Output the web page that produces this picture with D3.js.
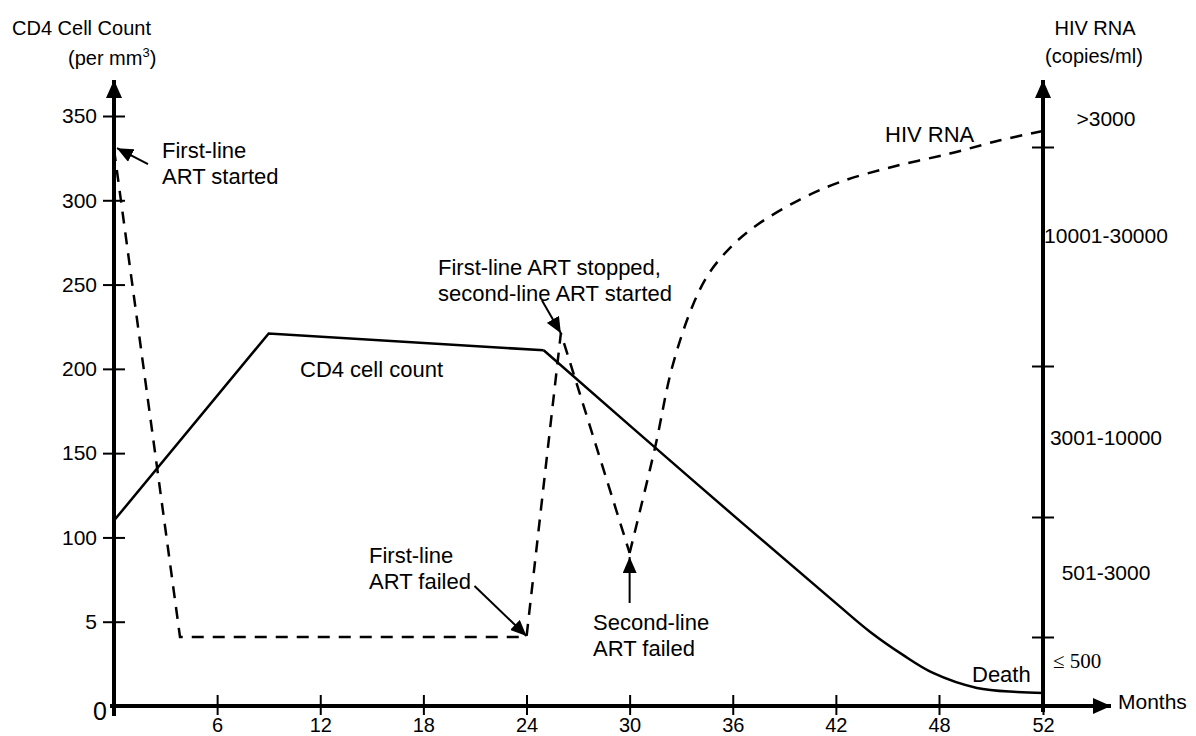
<!DOCTYPE html>
<html><head><meta charset="utf-8">
<script src="https://cdn.jsdelivr.net/npm/d3@7"></script>
<style>
body{margin:0;background:#fff}
svg text{font-family:"Liberation Sans",Arial,Helvetica,sans-serif;fill:#000}
</style>
</head><body>
<svg id="c" width="1196" height="736"></svg>
<script>
// ---------- data ----------
const xTickMonths = [6, 12, 18, 24, 30, 36, 42, 48, 52];
const xTickLabels = ["6", "12", "18", "24", "30", "36", "42", "48", "52"];
const cd4TickValues = [50, 100, 150, 200, 250, 300, 350];
const cd4TickLabels = ["5", "100", "150", "200", "250", "300", "350"];
const rnaLevelLabels = ["\u2264 500", "501-3000", "3001-10000", "10001-30000", ">3000"];
const rnaBoundaries = [1, 2, 3, 4];

// CD4 cell count (per mm3) by month
const cd4Months = [0, 9, 25, 34, 42, 44, 45.9, 47.65, 49.46, 51, 52];
const cd4Values = [110, 221, 211, 131, 61, 43.9, 30.3, 19.6, 10.7, 8.3, 7.7];

// HIV RNA, expressed as position on the right-hand category axis (0 = bottom, 1 = 500, 2 = 3000, 3 = 10000, 4 = 30000)
const hivMonths = [0, 3.84, 24, 26, 30, 31.48, 32.47, 33.69, 34.68, 36.01, 37.41, 39.91, 42.24, 45.32, 48.42, 50.35, 52];
const hivLevels = [3.99, 1.0, 1.0, 3.15, 1.70, 2.46, 2.99, 3.28, 3.43, 3.553, 3.644, 3.76, 3.84, 3.91, 3.97, 4.10, 4.24];

// ---------- drawing ----------
const svg = d3.select("#c");
const x = d3.scaleLinear().domain([0, 48, 52]).range([114, 939, 1043]);
const y = d3.scaleLinear().domain([0, 350]).range([706, 116]);
const yR = d3.scaleLinear().domain([0, 1, 2, 3, 4, 5]).range([706, 637, 517, 366, 147, 80]);

const defs = svg.append("defs");
defs.append("marker").attr("id", "ah").attr("markerUnits", "userSpaceOnUse")
  .attr("markerWidth", 17).attr("markerHeight", 14).attr("refX", 16).attr("refY", 7)
  .attr("orient", "auto")
  .append("path").attr("d", "M0,0 L16,7 L0,14 Z").attr("fill", "#000");
defs.append("marker").attr("id", "axh").attr("markerUnits", "userSpaceOnUse")
  .attr("markerWidth", 19).attr("markerHeight", 17).attr("refX", 18).attr("refY", 8)
  .attr("orient", "auto")
  .append("path").attr("d", "M0,0 L18,8 L0,16 Z").attr("fill", "#000");

// axis spines
svg.append("line").attr("x1", x(0)).attr("x2", x(0)).attr("y1", 716).attr("y2", 80)
  .attr("stroke", "#000").attr("stroke-width", 4).attr("marker-end", "url(#axh)");
svg.append("line").attr("x1", 110).attr("x2", 1111).attr("y1", y(0)).attr("y2", y(0))
  .attr("stroke", "#000").attr("stroke-width", 4).attr("marker-end", "url(#axh)");
svg.append("line").attr("x1", x(52)).attr("x2", x(52)).attr("y1", 712).attr("y2", 80)
  .attr("stroke", "#000").attr("stroke-width", 4).attr("marker-end", "url(#axh)");

// left axis
const gL = svg.append("g").attr("transform", `translate(${x(0)},0)`)
  .call(d3.axisLeft(y).tickValues(cd4TickValues).tickFormat((d, i) => cd4TickLabels[i]).tickSize(10));
gL.select(".domain").remove();
gL.attr("font-family", null).attr("font-size", null);
gL.selectAll(".tick line").attr("x1", -11).attr("x2", 11).attr("stroke-width", 2);
gL.selectAll(".tick text").attr("x", -17).style("font-size", "21px");
svg.append("text").attr("x", 107).attr("y", y(0) + 14).attr("text-anchor", "end")
  .style("font-size", "25px").text("0");

// bottom axis
const gB = svg.append("g").attr("transform", `translate(0,${y(0)})`)
  .call(d3.axisBottom(x).tickValues(xTickMonths).tickFormat((d, i) => xTickLabels[i]).tickSize(10));
gB.select(".domain").remove();
gB.attr("font-family", null).attr("font-size", null);
gB.selectAll(".tick line").attr("y1", -11).attr("y2", 9).attr("stroke-width", 2);
gB.selectAll(".tick text").attr("y", 12).style("font-size", "20px");

// right axis
const gR = svg.append("g").attr("transform", `translate(${x(52)},0)`)
  .call(d3.axisRight(yR).tickValues(rnaBoundaries).tickFormat("").tickSize(10));
gR.select(".domain").remove();
gR.selectAll(".tick line").attr("x1", -11).attr("x2", 11).attr("stroke-width", 2);
const labelNudge = [-11, -4, -4, -21, 5];
rnaLevelLabels.forEach((t, i) => {
  const tx = svg.append("text").attr("y", yR(i + 0.5) + labelNudge[i]).attr("dy", "0.35em").text(t);
  if (i === 0) {
    tx.attr("x", x(52) + 10).style("font-family", "'Liberation Serif','Times New Roman',serif").style("font-size", "21px");
  } else {
    tx.attr("x", x(52) + 63).attr("text-anchor", "middle").style("font-size", "21px");
  }
});

// axis titles
svg.append("text").attr("x", 12).attr("y", 35).style("font-size", "20px").text("CD4 Cell Count");
const pt = svg.append("text").attr("x", 68).attr("y", 65).style("font-size", "20px");
pt.append("tspan").text("(per mm");
pt.append("tspan").attr("dy", -8).style("font-size", "13px").text("3");
pt.append("tspan").attr("dy", 8).text(")");
svg.append("text").attr("x", 1095).attr("y", 35).attr("text-anchor", "middle").style("font-size", "20px").text("HIV RNA");
svg.append("text").attr("x", 1094).attr("y", 63).attr("text-anchor", "middle").style("font-size", "20px").text("(copies/ml)");
svg.append("text").attr("x", 1118).attr("y", 709).style("font-size", "21px").text("Months");

// CD4 line
const cd4 = cd4Months.map((m, i) => [m, cd4Values[i]]);
const lineL = d3.line().x(d => x(d[0])).y(d => y(d[1]));
const lineLs = d3.line().x(d => x(d[0])).y(d => y(d[1])).curve(d3.curveCatmullRom.alpha(0.5));
svg.append("path").attr("d", lineL(cd4.slice(0, 3))).attr("fill", "none").attr("stroke", "#000")
  .attr("stroke-width", 2.5).attr("stroke-linejoin", "miter");
svg.append("path").attr("d", lineLs(cd4.slice(2))).attr("fill", "none").attr("stroke", "#000")
  .attr("stroke-width", 2.5);

// HIV RNA line
const hiv = hivMonths.map((m, i) => [m, hivLevels[i]]);
const lineR = d3.line().x(d => x(d[0])).y(d => yR(d[1]));
const lineRs = d3.line().x(d => x(d[0])).y(d => yR(d[1])).curve(d3.curveCatmullRom.alpha(0.5));
svg.append("path").attr("d", lineR(hiv.slice(0, 5))).attr("fill", "none").attr("stroke", "#000")
  .attr("stroke-width", 2.5).attr("stroke-dasharray", "12,9");
svg.append("path").attr("d", lineRs(hiv.slice(4))).attr("fill", "none").attr("stroke", "#000")
  .attr("stroke-width", 2.5).attr("stroke-dasharray", "12,9");

// annotations
function arrow(tipX, tipY, dx, dy) {
  svg.append("line").attr("x1", tipX + dx).attr("y1", tipY + dy).attr("x2", tipX).attr("y2", tipY)
    .attr("stroke", "#000").attr("stroke-width", 2).attr("marker-end", "url(#ah)");
}
function label(lines, lx, ly) {
  lines.forEach((t, i) => svg.append("text").attr("x", lx).attr("y", ly + i * 26).style("font-size", "22px").text(t));
}
arrow(x(hiv[0][0]) + 3, yR(hiv[0][1]) - 1, 31, 16);
label(["First-line", "ART started"], 162, 158);
arrow(x(hiv[3][0]), yR(hiv[3][1]), -19, -33);
label(["First-line ART stopped,", "second-line ART started"], 438, 275);
arrow(x(hiv[2][0]), yR(hiv[2][1]) - 1, -52, -50);
label(["First-line", "ART failed"], 369, 563);
arrow(x(hiv[4][0]), yR(hiv[4][1]) + 4, 0, 46);
label(["Second-line", "ART failed"], 593, 630);
label(["CD4 cell count"], 300, 377);
label(["HIV RNA"], 885, 142);
label(["Death"], 972, 682);
</script>
</body></html>
